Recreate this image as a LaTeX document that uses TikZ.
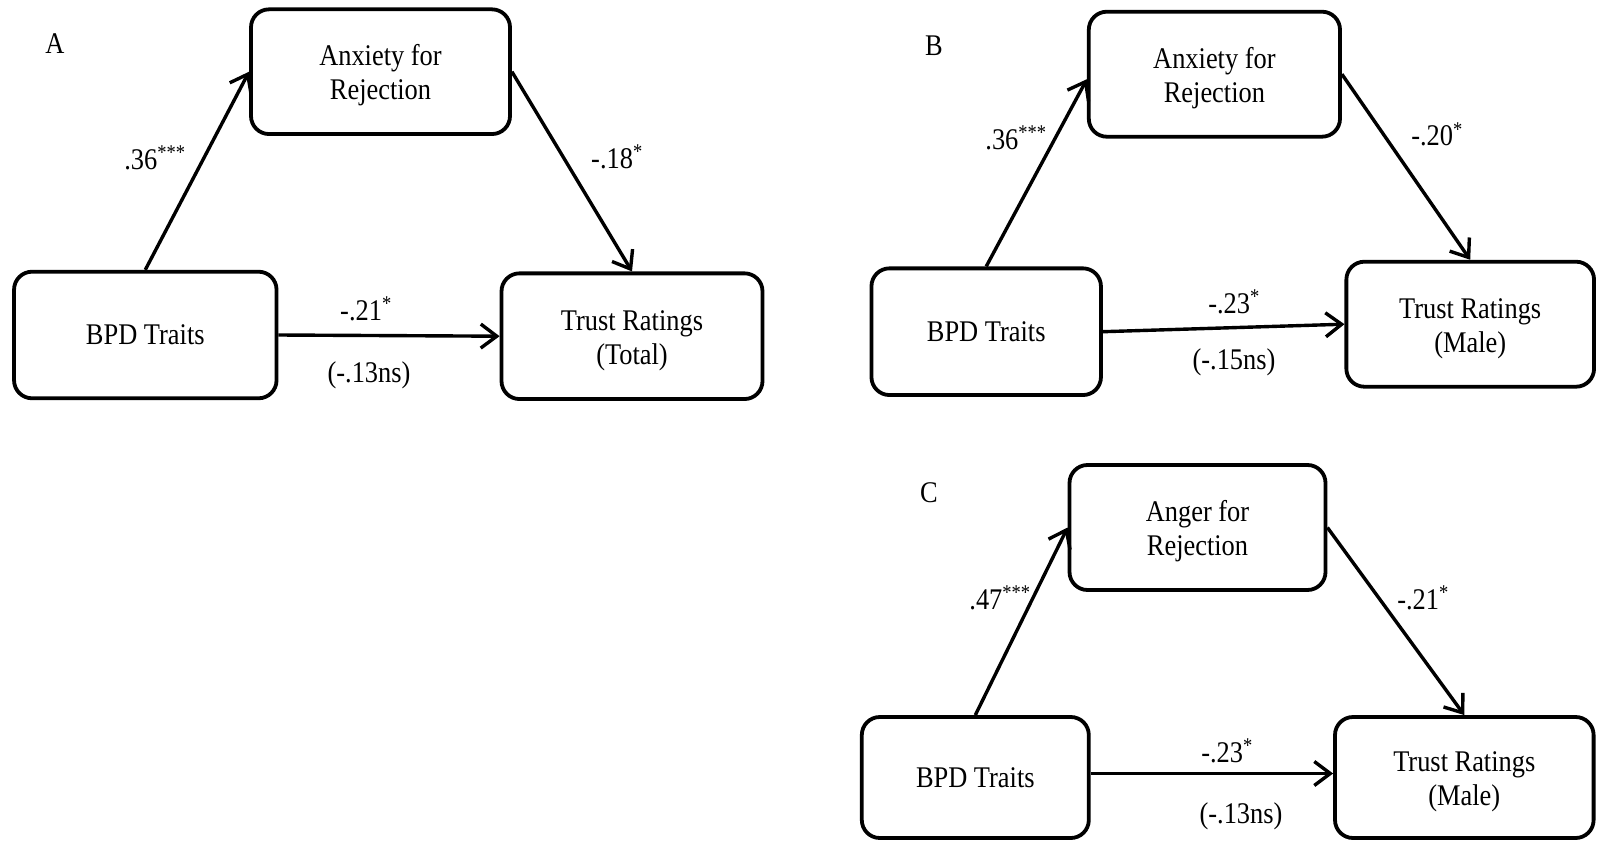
\documentclass[tikz,border=0pt]{standalone}
\usepackage{fontspec}
\setmainfont{Liberation Serif}[FakeStretch=0.88]
\usetikzlibrary{arrows.meta}
% extra height on the first line lowers a two-line label inside its box
\newcommand{\firstline}{\rule{0pt}{28pt}}
\begin{document}
\begin{tikzpicture}[x=1pt,y=-1pt,
  every node/.style={font=\fontsize{30}{34}\selectfont},
  box/.style={draw, line width=3.8pt, rounded corners=18pt, align=center, inner sep=0pt},
  link/.style={line width=3.4pt, -{Straight Barb[length=16pt,width=24pt,line width=3.4pt]}},
  coef/.style={anchor=base, inner sep=0pt}]
\useasboundingbox (0,0) rectangle (1597,840);

% ---------- Panel A ----------
\node[coef] (letA) at (55,54) {A};
\node[box, minimum width=259pt, minimum height=124.7pt] (anxA) at (380.5,71.7) {\firstline Anxiety for\\Rejection};
\node[box, minimum width=262.5pt, minimum height=126.6pt] (bpdA) at (145.3,335) {BPD Traits};
\node[box, minimum width=261pt, minimum height=125.7pt] (trustA) at (632,336.2) {\firstline Trust Ratings\\(Total)};
\draw[link] (bpdA.north) -- (anxA.west);
\draw[link] (anxA.east) -- (trustA.north);
\draw[link] (bpdA.east) -- (trustA.west);
\node[coef] (aA) at (155,169) {.36\textsuperscript{***}};
\node[coef] (bA) at (617,168) {-.18\textsuperscript{*}};
\node[coef] (cA) at (366,320) {-.21\textsuperscript{*}};
\node[coef] (dA) at (369,382) {(-.13ns)};

% ---------- Panel B ----------
\node[coef] (letB) at (934,56) {B};
\node[box, minimum width=251.2pt, minimum height=125pt] (anxB) at (1214.4,74.2) {\firstline Anxiety for\\Rejection};
\node[box, minimum width=229.5pt, minimum height=126.7pt] (bpdB) at (986.2,331.7) {BPD Traits};
\node[box, minimum width=247.7pt, minimum height=125pt] (trustB) at (1470.2,324.2) {\firstline Trust Ratings\\(Male)};
\draw[link] (bpdB.north) -- ([yshift=-5pt]anxB.west);
\draw[link] (anxB.east) -- (trustB.north);
\draw[link] (bpdB.east) -- (trustB.west);
\node[coef] (aB) at (1016,149) {.36\textsuperscript{***}};
\node[coef] (bB) at (1437,146) {-.20\textsuperscript{*}};
\node[coef] (cB) at (1234,313) {-.23\textsuperscript{*}};
\node[coef] (dB) at (1234,369) {(-.15ns)};

% ---------- Panel C ----------
\node[coef] (letC) at (929,502) {C};
\node[box, minimum width=256pt, minimum height=125pt] (angC) at (1197.5,527.5) {\firstline Anger for\\Rejection};
\node[box, minimum width=227pt, minimum height=121pt] (bpdC) at (975.3,777.5) {BPD Traits};
\node[box, minimum width=258.6pt, minimum height=121pt] (trustC) at (1464.3,777.5) {\firstline Trust Ratings\\(Male)};
\draw[link] (bpdC.north) -- (angC.west);
\draw[link] (angC.east) -- (trustC.north);
\draw[link] ([yshift=4pt]bpdC.east) -- ([yshift=4pt]trustC.west);
\node[coef] (aC) at (1000,609) {.47\textsuperscript{***}};
\node[coef] (bC) at (1423,609) {-.21\textsuperscript{*}};
\node[coef] (cC) at (1227,762) {-.23\textsuperscript{*}};
\node[coef] (dC) at (1241,823) {(-.13ns)};
\end{tikzpicture}
\end{document}
